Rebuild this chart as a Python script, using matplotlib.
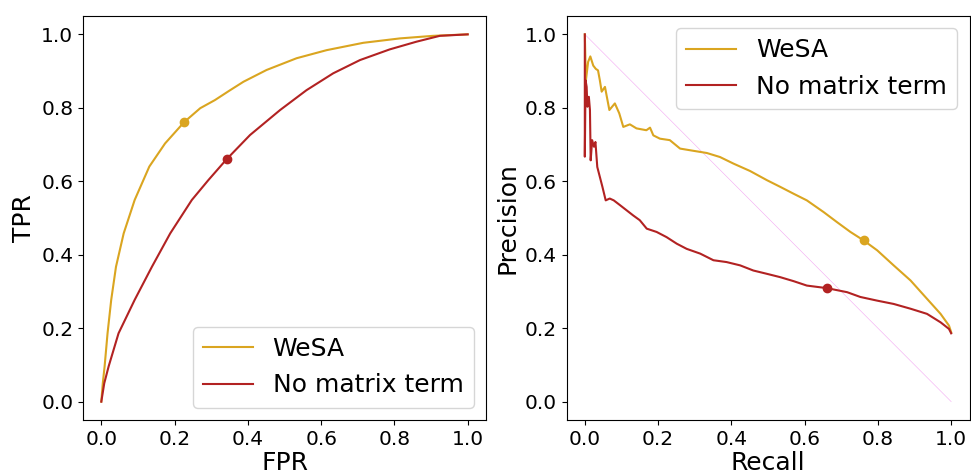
import matplotlib
matplotlib.use("Agg")
import matplotlib.pyplot as plt

# ROC curves
roc_wesa_fpr = [0.0, 0.004, 0.009, 0.017, 0.027, 0.040, 0.061, 0.091, 0.131, 0.174,
                0.226, 0.27, 0.31, 0.35, 0.388, 0.451, 0.533, 0.615, 0.715, 0.815,
                0.906, 1.0]
roc_wesa_tpr = [0.0, 0.05, 0.096, 0.186, 0.277, 0.367, 0.458, 0.549, 0.64, 0.703,
                0.761, 0.799, 0.821, 0.847, 0.871, 0.903, 0.935, 0.957, 0.977, 0.989,
                0.996, 1.0]
roc_nomat_fpr = [0.0, 0.008, 0.02, 0.047, 0.091, 0.138, 0.188, 0.247, 0.292, 0.342,
                 0.406, 0.488, 0.56, 0.633, 0.706, 0.787, 0.86, 0.924, 1.0]
roc_nomat_tpr = [0.0, 0.05, 0.096, 0.186, 0.277, 0.367, 0.458, 0.549, 0.603, 0.66,
                 0.726, 0.794, 0.848, 0.894, 0.93, 0.959, 0.98, 0.996, 1.0]

# Precision-recall curves
pr_wesa_recall = [0.0, 0.003, 0.009, 0.015, 0.023, 0.03, 0.036, 0.041, 0.046, 0.055,
                  0.067, 0.082, 0.094, 0.105, 0.123, 0.141, 0.168, 0.178, 0.187, 0.205,
                  0.232, 0.26, 0.296, 0.333, 0.369, 0.406, 0.451, 0.497, 0.533, 0.57,
                  0.606, 0.652, 0.688, 0.725, 0.761, 0.798, 0.843, 0.889, 0.934, 0.971,
                  0.994, 1.0]
pr_wesa_precision = [1.0, 0.875, 0.925, 0.94, 0.915, 0.906, 0.902, 0.875, 0.844, 0.857,
                     0.794, 0.812, 0.785, 0.748, 0.755, 0.744, 0.739, 0.746, 0.725, 0.716,
                     0.712, 0.689, 0.683, 0.677, 0.666, 0.648, 0.628, 0.603, 0.585, 0.566,
                     0.548, 0.516, 0.489, 0.462, 0.439, 0.412, 0.371, 0.33, 0.28, 0.239,
                     0.207, 0.189]
pr_nomat_recall = [0.0, 0.0, 0.002, 0.005, 0.007, 0.011, 0.014, 0.016, 0.02, 0.025,
                   0.029, 0.034, 0.041, 0.048, 0.057, 0.068, 0.079, 0.096, 0.114, 0.132,
                   0.15, 0.169, 0.196, 0.223, 0.251, 0.278, 0.315, 0.351, 0.387, 0.424,
                   0.46, 0.497, 0.533, 0.57, 0.606, 0.661, 0.716, 0.752, 0.798, 0.843,
                   0.889, 0.934, 0.971, 0.994, 1.0]
pr_nomat_precision = [1.0, 0.667, 0.875, 0.857, 0.803, 0.83, 0.794, 0.657, 0.712, 0.694,
                      0.707, 0.639, 0.612, 0.585, 0.548, 0.553, 0.548, 0.535, 0.521, 0.507,
                      0.494, 0.471, 0.462, 0.448, 0.43, 0.416, 0.403, 0.385, 0.38, 0.371,
                      0.357, 0.348, 0.339, 0.328, 0.316, 0.309, 0.298, 0.285, 0.275, 0.266,
                      0.253, 0.239, 0.216, 0.198, 0.186]

# Operating points (threshold markers)
op_wesa = (0.226, 0.761, 0.439)      # fpr, tpr(=recall), precision
op_nomat = (0.342, 0.66, 0.309)

labels = ["WeSA", "No matrix term"]
colors = ["goldenrod", "firebrick"]
ticks = [0.0, 0.2, 0.4, 0.6, 0.8, 1.0]

plt.rcParams["font.family"] = ["DejaVu Sans"]

fig = plt.figure(figsize=(9.71, 4.72), dpi=100)
ax1 = fig.add_axes([83 / 971, 52 / 472, 403 / 971, 404 / 472])
ax2 = fig.add_axes([566.5 / 971, 52 / 472, 403 / 971, 404 / 472])

# ROC panel
ax1.plot(roc_wesa_fpr, roc_wesa_tpr, color=colors[0], lw=1.5, label=labels[0])
ax1.plot(roc_nomat_fpr, roc_nomat_tpr, color=colors[1], lw=1.5, label=labels[1])
ax1.plot(op_wesa[0], op_wesa[1], "o", color=colors[0], ms=6)
ax1.plot(op_nomat[0], op_nomat[1], "o", color=colors[1], ms=6)
ax1.set_xlabel("FPR", fontsize=18, labelpad=2)
ax1.set_ylabel("TPR", fontsize=18)
ax1.legend(loc="lower right", fontsize=18)

# Precision-recall panel
ax2.plot([0, 1], [1, 0], color="violet", lw=0.4, alpha=0.7)
ax2.plot(pr_wesa_recall, pr_wesa_precision, color=colors[0], lw=1.5, label=labels[0])
ax2.plot(pr_nomat_recall, pr_nomat_precision, color=colors[1], lw=1.5, label=labels[1])
ax2.plot(op_wesa[1], op_wesa[2], "o", color=colors[0], ms=6)
ax2.plot(op_nomat[1], op_nomat[2], "o", color=colors[1], ms=6)
ax2.set_xlabel("Recall", fontsize=18, labelpad=2)
ax2.set_ylabel("Precision", fontsize=18)
ax2.legend(loc="upper right", fontsize=18)

for ax in (ax1, ax2):
    ax.set_xlim(-0.05, 1.05)
    ax.set_ylim(-0.05, 1.05)
    ax.set_xticks(ticks)
    ax.set_yticks(ticks)
    ax.tick_params(labelsize=14.5)

fig.savefig("out.png", dpi=100)
